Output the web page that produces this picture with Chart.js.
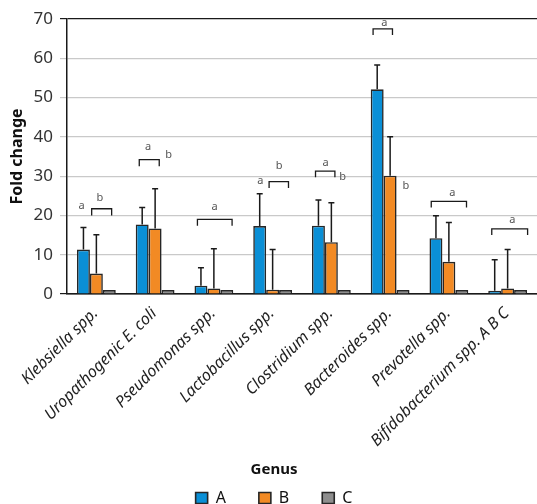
<!DOCTYPE html>
<html>
<head>
<meta charset="utf-8">
<script src="https://cdn.jsdelivr.net/npm/chart.js@4/dist/chart.umd.min.js"></script>
<style>
  html, body { margin: 0; padding: 0; background: #ffffff; }
  #wrap { width: 537px; height: 504px; }
</style>
</head>
<body>
<div id="wrap"><canvas id="fold-chart" width="537" height="504"></canvas></div>
<script>
// Chart data
const genera = [
  'Klebsiella spp.',
  'Uropathogenic E. coli',
  'Pseudomonas spp.',
  'Lactobacillus spp.',
  'Clostridium spp.',
  'Bacteroides spp.',
  'Prevotella spp.',
  'Bifidobacterium spp. A B C'
];
const groupNames = ['A', 'B', 'C'];
const valuesA = [11.3, 17.7, 2.1, 17.3, 17.4, 52.1, 14.2, 0.8];
const valuesB = [5.2, 16.7, 1.4, 1.1, 13.2, 30.1, 8.2, 1.4];
const valuesC = [1.0, 1.0, 1.0, 1.0, 1.0, 1.0, 1.0, 1.0];
// upper end of the error bars
const upperA = [16.9, 22.0, 6.7, 25.5, 23.9, 58.3, 19.9, 8.7];
const upperB = [15.1, 26.8, 11.5, 11.3, 23.2, 40.0, 18.2, 11.3];
const yTicks = [0, 10, 20, 30, 40, 50, 60, 70];

// significance letters: category index, offset in categories, value
const sigLetters = [
  [0, -0.25, 22.4, 'a'], [0, 0.06, 24.5, 'b'],
  [1, -0.12, 37.5, 'a'], [1, 0.23, 35.4, 'b'],
  [2, 0.01, 22.3, 'a'],
  [3, -0.21, 28.7, 'a'], [3, 0.11, 32.5, 'b'],
  [4, -0.10, 33.4, 'a'], [4, 0.19, 29.8, 'b'],
  [5, -0.10, 68.9, 'a'], [5, 0.27, 27.4, 'b'],
  [6, 0.06, 25.7, 'a'],
  [7, 0.08, 18.8, 'a']
];
// brackets: category index, from, to, top value, foot value
const sigBrackets = [
  [0, -0.08, 0.26, 21.7, 20.0],
  [1, -0.27, 0.07, 34.2, 32.5],
  [2, -0.28, 0.31, 19.0, 17.4],
  [3, -0.06, 0.27, 28.6, 27.0],
  [4, -0.27, 0.06, 31.3, 29.7],
  [5, -0.29, 0.04, 67.5, 65.9],
  [6, -0.30, 0.30, 23.6, 22.0],
  [7, -0.27, 0.34, 16.6, 15.0]
];

const colors = {
  blue: '#0a8fd6',
  orange: '#f28a24',
  gray: '#8e8e8e',
  edge: '#262626',
  grid: '#c9c9c9',
  axis: '#1a1a1a',
  text: '#222222',
  letter: '#555555'
};
const FONT = "'Noto Sans', 'Open Sans', sans-serif";

// Error bars (upward only, with a cap)
const errorBars = {
  id: 'errorBars',
  afterDatasetsDraw(chart) {
    const ctx = chart.ctx;
    const y = chart.scales.y;
    const uppers = [upperA, upperB];
    ctx.save();
    ctx.strokeStyle = colors.axis;
    ctx.lineWidth = 1.5;
    uppers.forEach((upper, d) => {
      const meta = chart.getDatasetMeta(d);
      meta.data.forEach((bar, i) => {
        const top = y.getPixelForValue(upper[i]);
        ctx.beginPath();
        ctx.moveTo(bar.x, bar.y);
        ctx.lineTo(bar.x, top);
        ctx.moveTo(bar.x - 3, top);
        ctx.lineTo(bar.x + 3, top);
        ctx.stroke();
      });
    });
    ctx.restore();
  }
};

// Letters and brackets above the groups
const significance = {
  id: 'significance',
  afterDraw(chart) {
    const ctx = chart.ctx;
    const x = chart.scales.x;
    const y = chart.scales.y;
    ctx.save();
    ctx.strokeStyle = colors.axis;
    ctx.lineWidth = 1.3;
    sigBrackets.forEach(([cat, from, to, top, foot]) => {
      const x0 = x.getPixelForValue(cat + from);
      const x1 = x.getPixelForValue(cat + to);
      const yt = y.getPixelForValue(top);
      const yf = y.getPixelForValue(foot);
      ctx.beginPath();
      ctx.moveTo(x0, yf);
      ctx.lineTo(x0, yt);
      ctx.lineTo(x1, yt);
      ctx.lineTo(x1, yf);
      ctx.stroke();
    });
    ctx.fillStyle = colors.letter;
    ctx.font = '11px ' + FONT;
    ctx.textAlign = 'center';
    ctx.textBaseline = 'middle';
    sigLetters.forEach(([cat, off, val, txt]) => {
      ctx.fillText(txt, x.getPixelForValue(cat + off), y.getPixelForValue(val));
    });
    ctx.restore();
  }
};

const ctx = document.getElementById('fold-chart');
new Chart(ctx, {
  type: 'bar',
  data: {
    labels: genera,
    datasets: [
      { label: groupNames[0], data: valuesA, backgroundColor: colors.blue },
      { label: groupNames[1], data: valuesB, backgroundColor: colors.orange },
      { label: groupNames[2], data: valuesC, backgroundColor: colors.gray }
    ].map(ds => Object.assign(ds, {
      borderColor: colors.edge,
      borderWidth: 1.6,
      categoryPercentage: 0.66,
      barPercentage: 1.0
    }))
  },
  options: {
    responsive: false,
    animation: false,
    layout: { padding: { top: 19, left: 11, right: 0, bottom: 0 } },
    plugins: {
      tooltip: { enabled: false },
      legend: {
        position: 'bottom',
        maxHeight: 42,
        title: {
          display: true,
          text: 'Genus',
          color: '#111111',
          font: { family: FONT, size: 15, weight: 'bold', lineHeight: 1.2 },
          padding: { top: 0, bottom: -23 }
        },
        labels: {
          boxWidth: 12,
          boxHeight: 11,
          padding: 33,
          color: '#111111',
          font: { family: FONT, size: 16, lineHeight: 1 }
        }
      }
    },
    scales: {
      x: {
        afterFit(scale) { scale.height = 168; },
        grid: { display: false },
        border: { display: true, color: colors.axis, width: 1.5 },
        ticks: {
          autoSkip: false,
          maxRotation: 45,
          minRotation: 45,
          padding: 2,
          labelOffset: -1,
          color: colors.text,
          font: { family: FONT, size: 16, style: 'italic' }
        }
      },
      y: {
        min: 0,
        max: 70,
        afterFit(scale) { scale.width = 56; },
        afterBuildTicks(scale) { scale.ticks = yTicks.map(v => ({ value: v })); },
        border: { display: true, color: colors.axis, width: 1.5 },
        grid: {
          color: c => (c.tick && (c.tick.value === 0 || c.tick.value === 70)) ? colors.axis : colors.grid,
          lineWidth: 1.2,
          tickLength: 7
        },
        ticks: {
          padding: 7,
          color: '#333333',
          font: { family: FONT, size: 17 }
        },
        title: {
          display: true,
          text: 'Fold change',
          color: '#111111',
          padding: { top: -2, bottom: 0 },
          font: { family: FONT, size: 16, weight: 'bold', lineHeight: 1 }
        }
      }
    }
  },
  plugins: [errorBars, significance]
});
</script>
</body>
</html>
